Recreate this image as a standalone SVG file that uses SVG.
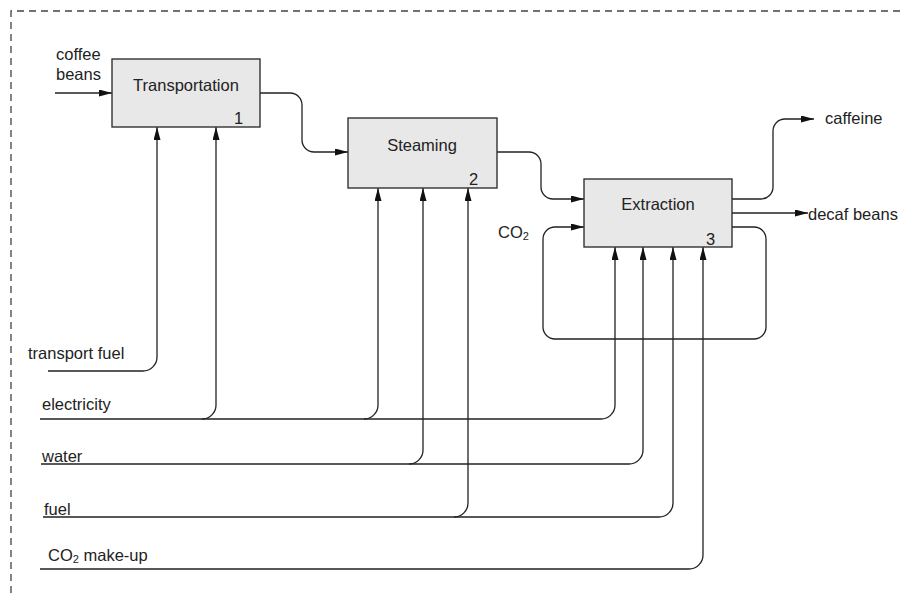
<svg xmlns="http://www.w3.org/2000/svg" width="901" height="593" viewBox="0 0 901 593">
<defs>
<style>
.box{fill:#e8e8e8;stroke:#333;stroke-width:1.4}
.ln{fill:none;stroke:#222;stroke-width:1.3}
.arr{marker-end:url(#ah)}
text{font-family:"Liberation Sans",Arial,sans-serif;font-size:16.5px;fill:#222}
.num{font-size:16.5px}
.border{fill:none;stroke:#444;stroke-width:1.3;stroke-dasharray:7,5}
</style>
<marker id="ah" markerUnits="userSpaceOnUse" markerWidth="14" markerHeight="8" refX="13" refY="3.5" orient="auto">
<path d="M0,0 L13,3.5 L0,7 z" fill="#111"/>
</marker>
</defs>
<rect width="901" height="593" fill="#fff"/>
<path class="border" d="M11,593 V11 H901"/>

<g id="connectors">
<path class="ln arr" d="M55,93 H112"/>
<path class="ln arr" d="M260,93 H290 A12,12 0 0 1 302,105 V140 A12,12 0 0 0 314,152 H348"/>
<path class="ln arr" d="M497,152 H529 A12,12 0 0 1 541,164 V187 A12,12 0 0 0 553,199 H584"/>
<path class="ln arr" d="M732,227 H754 A12,12 0 0 1 766,239 V327 A12,12 0 0 1 754,339 H555 A12,12 0 0 1 543,327 V239 A12,12 0 0 1 555,227 H584"/>
<path class="ln arr" d="M732,199 H761 A12,12 0 0 0 773,187 V131 A12,12 0 0 1 785,119 H814"/>
<path class="ln arr" d="M732,213 H808"/>
<path class="ln arr" d="M48,371 H143 A14,14 0 0 0 157,357 V127"/>
<path class="ln arr" d="M40,419 H601 A14,14 0 0 0 615,405 V247"/>
<path class="ln arr" d="M202,419 A14,14 0 0 0 216,405 V127"/>
<path class="ln arr" d="M364,419 A14,14 0 0 0 378,405 V188"/>
<path class="ln arr" d="M41,464 H629 A14,14 0 0 0 643,450 V247"/>
<path class="ln arr" d="M409,464 A14,14 0 0 0 423,450 V188"/>
<path class="ln arr" d="M43,517 H659 A14,14 0 0 0 673,503 V247"/>
<path class="ln arr" d="M454,517 A14,14 0 0 0 468,503 V188"/>
<path class="ln arr" d="M40,569 H689 A14,14 0 0 0 703,555 V247"/>
</g>

<g id="transportation">
<rect class="box" x="112" y="59" width="148" height="68"/>
<text x="186" y="90.5" text-anchor="middle">Transportation</text>
<text class="num" x="234" y="124">1</text>
</g>
<g id="steaming">
<rect class="box" x="348" y="118" width="149" height="70"/>
<text x="422" y="151" text-anchor="middle">Steaming</text>
<text class="num" x="469" y="185">2</text>
</g>
<g id="extraction">
<rect class="box" x="584" y="179" width="148" height="68"/>
<text x="658" y="210" text-anchor="middle">Extraction</text>
<text class="num" x="706" y="245">3</text>
</g>

<g id="labels">
<text x="56" y="60">coffee</text>
<text x="56" y="80">beans</text>
<text x="825" y="124">caffeine</text>
<text x="808" y="220">decaf beans</text>
<text x="498" y="238">CO<tspan font-size="11" dy="2">2</tspan></text>
<text x="28" y="359">transport fuel</text>
<text x="42" y="410">electricity</text>
<text x="42" y="462" fill="#555">water</text>
<text x="44" y="515">fuel</text>
<text x="48" y="561">CO<tspan font-size="11" dy="2">2</tspan><tspan dy="-2"> make-up</tspan></text>
</g>
</svg>
